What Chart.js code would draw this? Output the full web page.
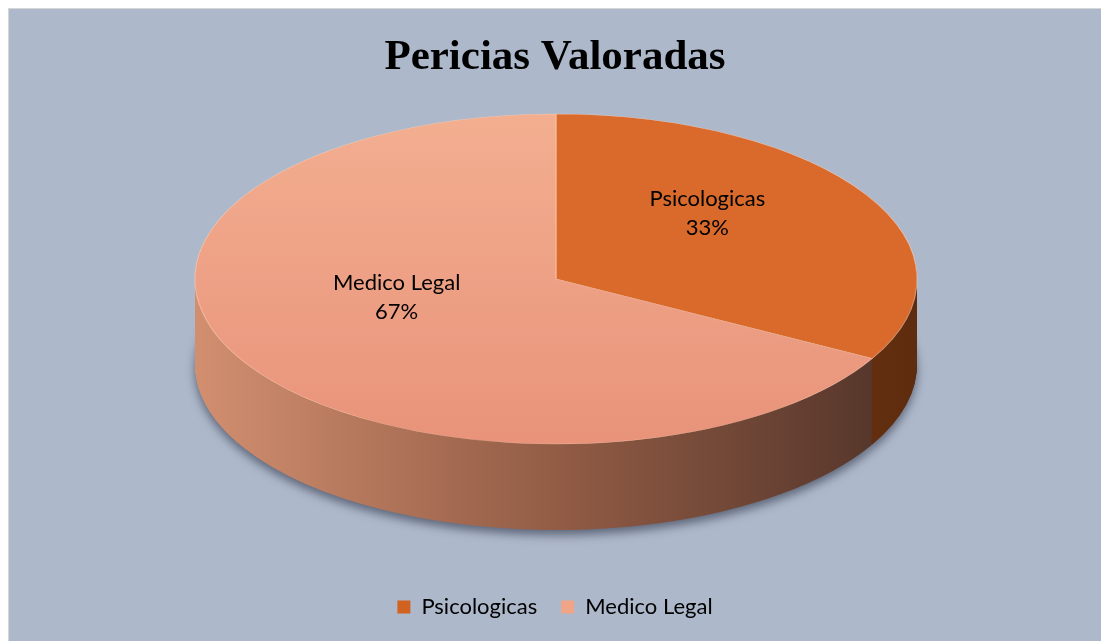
<!DOCTYPE html>
<html>
<head>
<meta charset="utf-8">
<script src="https://cdn.jsdelivr.net/npm/chart.js@4"></script>
<style>
  html, body { margin: 0; padding: 0; background: #fff; }
  #box {
    position: absolute; left: 8px; top: 8px;
    width: 1093px; height: 633px;
    background: #adb8ca;
    border-left: 1px solid #d6d6d6; border-top: 1px solid #d6d6d6;
    box-sizing: border-box;
  }
  canvas { display: block; }
</style>
</head>
<body>
<div id="box"><canvas id="pie" width="1092" height="632"></canvas></div>
<script>
// datos
const categorias = ['Psicologicas', 'Medico Legal'];
const valores = [33, 67];

// colores
const colorTop = ['#d96a2b', '#ee9f80'];
const colorLegend = ['#d2621f', '#f2a487'];

// elipse 3D (coordenadas del canvas)
const elipse = { x: 547, y: 270, rx: 361, ry: 165, depth: 86, labelShift: -24 };

function topFill(c) {
  const i = c.dataIndex;
  const chart = c.chart;
  const arc = chart.getDatasetMeta(0).data[0];
  if (!arc || !arc.outerRadius) return colorTop[i];
  const g = chart.ctx.createLinearGradient(0, arc.y - arc.outerRadius, 0, arc.y + arc.outerRadius);
  if (i === 0) {
    g.addColorStop(0, '#e07b3e');
    g.addColorStop(1, '#d25e1c');
  } else {
    g.addColorStop(0, '#f3ae90');
    g.addColorStop(1, '#e8937a');
  }
  return g;
}

const pie3d = {
  id: 'pie3d',
  beforeDatasetsDraw(chart) {
    const ctx = chart.ctx;
    const arcs = chart.getDatasetMeta(0).data;
    const a0 = arcs[0];
    const R = a0.outerRadius, cx = a0.x, cy = a0.y;
    const sx = elipse.rx / R, sy = elipse.ry / R;

    // gradientes laterales
    const side = [];
    for (let i = 0; i < arcs.length; i++) {
      const g = ctx.createLinearGradient(cx - R, 0, cx + R, 0);
      if (i === 0) {
        g.addColorStop(0, '#a0521f');
        g.addColorStop(1, '#5e2c0e');
      } else {
        g.addColorStop(0, '#d28f70');
        g.addColorStop(0.5, '#925c45');
        g.addColorStop(1, '#4f3228');
      }
      side.push(g);
    }

    for (let d = elipse.depth; d >= 1; d--) {
      ctx.save();
      if (d === elipse.depth) {
        ctx.shadowColor = 'rgba(30,35,55,0.55)';
        ctx.shadowBlur = 10;
        ctx.shadowOffsetY = 5;
      }
      ctx.translate(elipse.x, elipse.y + d);
      ctx.scale(sx, sy);
      ctx.translate(-cx, -cy);
      arcs.forEach((arc, i) => {
        const o = arc.options;
        arc.options = Object.assign({}, o, { backgroundColor: side[i], borderWidth: 0 });
        arc.draw(ctx);
        arc.options = o;
      });
      ctx.restore();
    }

    ctx.save();
    ctx.translate(elipse.x, elipse.y);
    ctx.scale(sx, sy);
    ctx.translate(-cx, -cy);
  },
  afterDatasetsDraw(chart) {
    const ctx = chart.ctx;
    ctx.restore();
    const arcs = chart.getDatasetMeta(0).data;
    const total = valores.reduce((a, b) => a + b, 0);
    ctx.save();
    ctx.fillStyle = '#000';
    ctx.font = '22px Lato';
    ctx.textAlign = 'center';
    ctx.textBaseline = 'middle';
    arcs.forEach((arc, i) => {
      const mid = (arc.startAngle + arc.endAngle) / 2;
      const x = elipse.x + 0.5 * elipse.rx * Math.cos(mid) - 4;
      const y = elipse.y + 0.5 * elipse.ry * Math.sin(mid) + elipse.labelShift;
      ctx.fillText(categorias[i], x, y - 14);
      ctx.fillText(Math.round(valores[i] / total * 100) + '%', x, y + 15);
    });
    ctx.restore();
  }
};

new Chart(document.getElementById('pie'), {
  type: 'pie',
  data: {
    labels: categorias,
    datasets: [{
      data: valores,
      backgroundColor: topFill,
      borderWidth: 0.7,
      borderColor: 'rgba(255,210,185,0.6)'
    }]
  },
  options: {
    responsive: false,
    animation: false,
    layout: { padding: { bottom: 13 } },
    plugins: {
      tooltip: { enabled: false },
      title: {
        display: true,
        text: 'Pericias Valoradas',
        color: '#000',
        font: { family: 'Liberation Serif', size: 43, weight: 'bold', lineHeight: 1.2 },
        padding: { top: 23, bottom: 10 }
      },
      legend: {
        position: 'bottom',
        labels: {
          color: '#000',
          font: { family: 'Lato', size: 22 },
          boxWidth: 13,
          boxHeight: 13,
          padding: 24,
          generateLabels: () => categorias.map((c, i) => ({
            text: c, fillStyle: colorLegend[i], strokeStyle: colorLegend[i], lineWidth: 0, index: i, fontColor: '#000'
          }))
        }
      }
    }
  },
  plugins: [pie3d]
});
</script>
</body>
</html>
